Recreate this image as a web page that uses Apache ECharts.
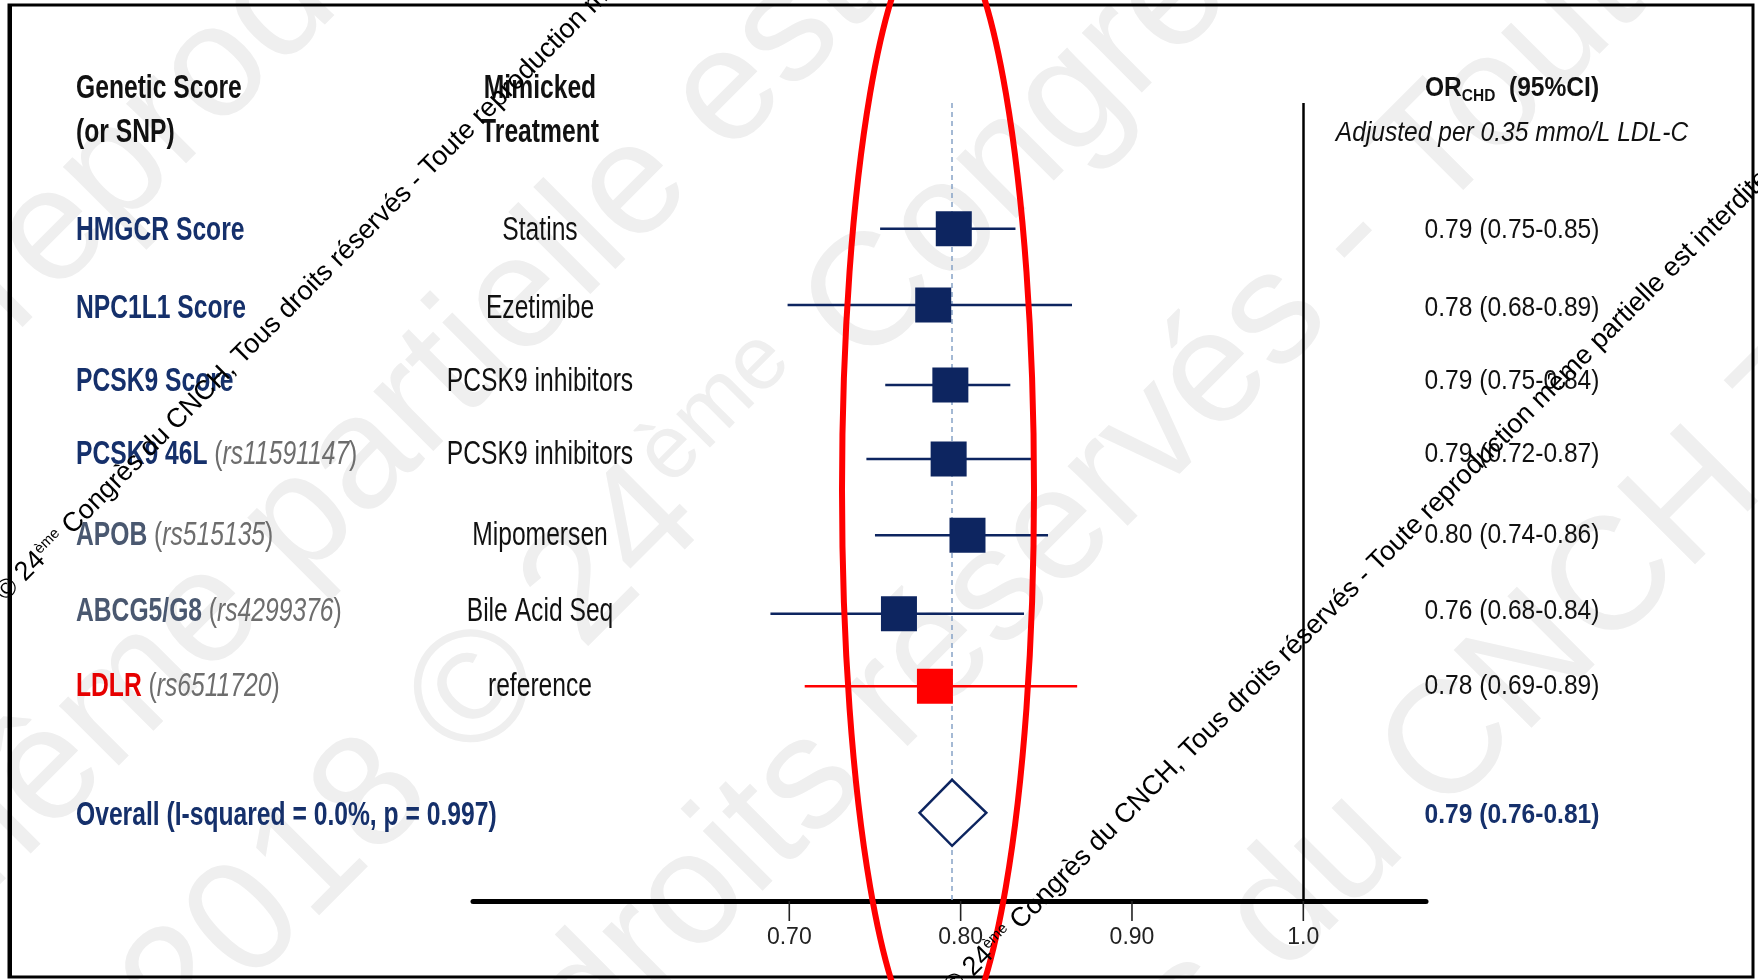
<!DOCTYPE html>
<html><head><meta charset="utf-8">
<script src="https://cdn.jsdelivr.net/npm/echarts@6/dist/echarts.min.js"></script>
<style>html,body{margin:0;padding:0;background:#fff}#c{width:1758px;height:980px}</style>
</head><body><div id="c"></div>
<script>
// ---------- data ----------
const names = ['HMGCR Score', 'NPC1L1 Score', 'PCSK9 Score', 'PCSK9 46L', 'APOB', 'ABCG5/G8', 'LDLR'];
const snps = ['', '', '', 'rs11591147', 'rs515135', 'rs4299376', 'rs6511720'];
const nameKind = ['score', 'score', 'score', 'score', 'snp', 'snp', 'ref'];
const treatments = ['Statins', 'Ezetimibe', 'PCSK9 inhibitors', 'PCSK9 inhibitors', 'Mipomersen', 'Bile Acid Seq', 'reference'];
const orLabels = ['0.79 (0.75-0.85)', '0.78 (0.68-0.89)', '0.79 (0.75-0.84)', '0.79 (0.72-0.87)', '0.80 (0.74-0.86)', '0.76 (0.68-0.84)', '0.78 (0.69-0.89)'];
// values as drawn on the plot
const est = [0.796, 0.784, 0.794, 0.793, 0.804, 0.764, 0.785];
const lo  = [0.753, 0.699, 0.756, 0.745, 0.750, 0.689, 0.709];
const hi  = [0.832, 0.865, 0.829, 0.843, 0.851, 0.837, 0.868];
const rows = [0, 1, 2.05, 3.02, 4.02, 5.05, 6];
const overallLabel = 'Overall (I-squared = 0.0%, p = 0.997)';
const overallOR = '0.79 (0.76-0.81)';
const overallEst = 0.795, overallLo = 0.776, overallHi = 0.815;
const overallRow = 7.66;
const xTicks = [0.7, 0.8, 0.9, 1.0];
const xTickLabels = ['0.70', '0.80', '0.90', '1.0'];
const nullLine = 1.0;

// ---------- styles / layout ----------
const NAVY = '#0d2560', SLATE = '#4a5870', RED = '#ff0000';
const kindColor = { score: '#15306b', snp: SLATE, ref: '#e60000' };
const FF = '"Liberation Sans", Arial, sans-serif';
const textRowY = [231, 309, 382, 455, 536, 612, 687];
const overallTextY = 816;
const headY = [89, 133];
const LEFT_SX = 0.725, RIGHT_SX = 0.91;

const chart = echarts.init(document.getElementById('c'), null, { renderer: 'canvas' });

function txt(x, y, text, opt) {
  return Object.assign({
    type: 'text', x: x, y: y, scaleX: opt.sx || 1, z: 50,
    style: Object.assign({
      text: text, x: 0, y: 0,
      align: opt.align || 'left', textAlign: opt.align || 'left',
      verticalAlign: 'middle', textVerticalAlign: 'middle',
      fill: opt.fill || '#111', fontSize: opt.size || 34, fontFamily: FF,
      fontWeight: opt.weight || 'normal', fontStyle: opt.style || 'normal'
    }, opt.extra || {})
  }, opt.el || {});
}

const g = [];
// faint background watermark (large grey text, 45 degrees)
const bigRich = {
  c: { fontSize: 160, fontFamily: FF, fill: '#efefef' },
  e: { fontSize: 90, fontFamily: FF, fill: '#efefef', verticalAlign: 'top' }
};
const bigLines = [
  { at: [40, 360], before: 'Tous droits r\u00e9serv\u00e9s - Toute ', after: 'reproduction m\u00eame' },
  { at: [325, 610], before: 'Toute reproduction m\u00eame ', after: 'partielle est interdite' },
  { at: [889, 396], before: 'interdite 2018 \u00a9 {e|24}{e|\u00e8me} ', after: 'Congr\u00e8s du CNCH' },
  { at: [925, 779], before: 'du CNCH Tous droits ', after: 'r\u00e9serv\u00e9s - Toute reproduction' },
  { at: [1466, 844], before: 'Congr\u00e8s du ', after: 'CNCH Tous droits' }
];
bigLines.forEach(function (l) {
  const bt = '{c|' + l.before.replace('{e|24}{e|\u00e8me}', '}{c|24}{e|\u00e8me}{c|') + '}';
  [[bt, 'right'], ['{c|' + l.after + '}', 'left']].forEach(function (p) {
    g.push({ type: 'text', x: l.at[0], y: l.at[1], rotation: Math.PI / 4, z: 0, silent: true,
      style: { text: p[0], x: 0, y: 0, align: p[1], textAlign: p[1], verticalAlign: 'bottom', textVerticalAlign: 'bottom', rich: bigRich } });
  });
});

// frame
g.push({ type: 'rect', shape: { x: 9, y: 5, width: 1744, height: 972 }, style: { fill: 'none', stroke: '#000', lineWidth: 3 }, z: 1 });
g.push({ type: 'line', shape: { x1: 10, y1: 5, x2: 10, y2: 977 }, style: { stroke: '#000', lineWidth: 4 }, z: 1 });

// headers
g.push(txt(76, headY[0], 'Genetic Score', { weight: 'bold', sx: LEFT_SX }));
g.push(txt(76, headY[1], '(or SNP)', { weight: 'bold', sx: LEFT_SX }));
g.push(txt(540, headY[0], 'Mimicked', { weight: 'bold', sx: LEFT_SX, align: 'center' }));
g.push(txt(540, headY[1], 'Treatment', { weight: 'bold', sx: LEFT_SX, align: 'center' }));
g.push(txt(1512, headY[0], '{a|OR}{b|CHD}{a|  (95%CI)}', { sx: RIGHT_SX, align: 'center', size: 27, weight: 'bold',
  extra: { rich: {
    a: { fontSize: 27, fontWeight: 'bold', fontFamily: FF, fill: '#111', verticalAlign: 'middle' },
    b: { fontSize: 17, fontWeight: 'bold', fontFamily: FF, fill: '#111', verticalAlign: 'bottom', padding: [14, 0, 0, 0] }
  } } }));
g.push(txt(1512, headY[1], 'Adjusted per 0.35 mmo/L LDL-C', { sx: RIGHT_SX, align: 'center', size: 27, style: 'italic' }));

// rows
names.forEach(function (n, i) {
  const col = kindColor[nameKind[i]];
  let t = '{n|' + n + '}';
  if (snps[i]) t += '{p| (}{s|' + snps[i] + '}{p|)}';
  g.push(txt(76, textRowY[i], t, { sx: LEFT_SX, extra: { rich: {
    n: { fontSize: 34, fontWeight: 'bold', fontFamily: FF, fill: col },
    p: { fontSize: 34, fontFamily: FF, fill: '#6d6d6d' },
    s: { fontSize: 34, fontStyle: 'italic', fontFamily: FF, fill: '#6d6d6d' }
  } } }));
  g.push(txt(540, textRowY[i], treatments[i], { sx: LEFT_SX, align: 'center' }));
  g.push(txt(1512, textRowY[i], orLabels[i], { sx: RIGHT_SX, align: 'center', size: 27 }));
});
g.push(txt(76, overallTextY, overallLabel, { sx: LEFT_SX, weight: 'bold', fill: '#15306b' }));
g.push(txt(1512, overallTextY, overallOR, { sx: RIGHT_SX, align: 'center', size: 27, weight: 'bold', fill: '#15306b' }));

// black watermark lines
const wm = '{c|\u00a9 24}{e|\u00e8me}{c| Congr\u00e8s du CNCH, Tous droits r\u00e9serv\u00e9s - Toute reproduction m\u00eame partielle est interdite}';
const wmRich = {
  c: { fontSize: 27, fontFamily: FF, fill: '#000' },
  e: { fontSize: 15, fontFamily: FF, fill: '#000', verticalAlign: 'top' }
};
[[10, 606], [958, 1001]].forEach(function (p) {
  g.push({ type: 'text', x: p[0], y: p[1], rotation: Math.PI / 4, z: 90,
    style: { text: wm, x: 0, y: 0, align: 'left', textAlign: 'left', verticalAlign: 'bottom', textVerticalAlign: 'bottom', rich: wmRich } });
});

// red ellipse annotation
g.push({ type: 'ellipse', shape: { cx: 938, cy: 490, rx: 96, ry: 561 }, style: { fill: 'none', stroke: RED, lineWidth: 6 }, z: 80 });

const option = {
  animation: false,
  backgroundColor: '#fff',
  grid: { left: 473, right: 332, top: 103, bottom: 79, containLabel: false },
  xAxis: {
    type: 'value', min: 0.5154, max: 1.0716,
    splitLine: { show: false },
    axisLine: { show: true, onZero: false, lineStyle: { color: '#000', width: 5 } },
    axisTick: { show: false },
    axisLabel: { show: true, customValues: xTicks, margin: 25, fontSize: 23, color: '#222', fontFamily: FF,
      formatter: function (v) { for (let k = 0; k < xTicks.length; k++) if (Math.abs(v - xTicks[k]) < 1e-6) return xTickLabels[k]; return ''; } }
  },
  yAxis: { type: 'value', inverse: true, min: -1.6485, max: 8.817, show: false },
  series: [
    {
      type: 'custom', name: 'ticks', z: 1, clip: false, silent: true,
      data: xTicks.map(function (v) { return [v]; }),
      encode: { x: 0 },
      renderItem: function (params, api) {
        const x = api.coord([api.value(0), 0])[0];
        const yb = params.coordSys.y + params.coordSys.height;
        return { type: 'line', shape: { x1: x, y1: yb, x2: x, y2: yb + 20 }, style: { stroke: '#222', lineWidth: 1.6 } };
      }
    },
    {
      type: 'custom', name: 'ci', z: 2,
      data: est.map(function (_, i) { return [lo[i], hi[i], rows[i]]; }),
      encode: { x: [0, 1], y: 2 },
      renderItem: function (params, api) {
        const a = api.coord([api.value(0), api.value(2)]);
        const b = api.coord([api.value(1), api.value(2)]);
        const c = nameKind[params.dataIndex] === 'ref' ? RED : NAVY;
        return { type: 'line', shape: { x1: a[0], y1: a[1], x2: b[0], y2: b[1] }, style: { stroke: c, lineWidth: 2.6 } };
      }
    },
    {
      type: 'scatter', name: 'est', z: 4, symbol: 'rect', symbolSize: [36, 35],
      data: est.map(function (v, i) { return { value: [v, rows[i]], itemStyle: { color: nameKind[i] === 'ref' ? RED : NAVY, opacity: 1 } }; }),
      markLine: {
        silent: true, symbol: ['none', 'none'], label: { show: false }, animation: false, precision: 6, z: 1,
        data: [
          { xAxis: nullLine, lineStyle: { color: '#000', width: 2.5, type: 'solid', opacity: 1 } },
          { xAxis: overallEst, lineStyle: { color: '#86a3c6', width: 1.5, type: [5, 4], opacity: 1 } }
        ]
      }
    },
    {
      type: 'custom', name: 'overall', z: 4,
      data: [[overallLo, overallHi, overallEst, overallRow]],
      encode: { x: [0, 1, 2], y: 3 },
      renderItem: function (params, api) {
        const l = api.coord([api.value(0), api.value(3)]);
        const r = api.coord([api.value(1), api.value(3)]);
        const c = api.coord([api.value(2), api.value(3)]);
        const h = 33;
        return { type: 'polygon', shape: { points: [[l[0], c[1]], [c[0], c[1] - h], [r[0], c[1]], [c[0], c[1] + h]] },
          style: { fill: '#fff', stroke: NAVY, lineWidth: 2.5 } };
      }
    }
  ],
  graphic: { elements: g }
};
chart.setOption(option);
</script></body></html>
